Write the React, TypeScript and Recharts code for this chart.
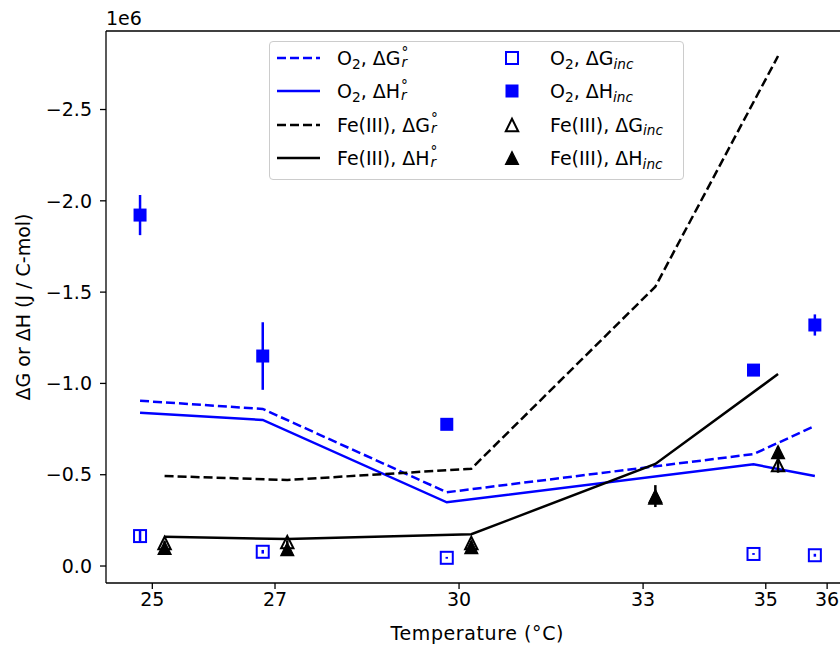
import React from "react";
import { ComposedChart, Line, Scatter, ErrorBar, XAxis, YAxis, Legend, ReferenceLine } from "recharts";

// recharts no resuelve CSS vars — colores fijos
const BLUE = "#0000ff";
const BLACK = "#000000";
const FONT = "'DejaVu Sans', sans-serif";
const FS = 19;

// temperaturas (°C): O2 desplazado a la izquierda, Fe(III) a la derecha
const O2_TEMPS = [24.8, 26.8, 29.8, 34.8, 35.8];
const FE_TEMPS = [25.2, 27.2, 30.2, 33.2, 35.2];

// ΔG°r / ΔH°r calculados (J / C-mol)
const O2_DG_R = [-905000, -860000, -404000, -613000, -767000];
const O2_DH_R = [-840000, -800000, -349000, -557000, -493000];
const FE_DG_R = [-493000, -471000, -533000, -1530000, -2793000];
const FE_DH_R = [-160000, -148000, -174000, -559000, -1051000];

// incubaciones (media ± error)
const O2_DG_INC = [-164000, -78000, -45000, -66000, -59000];
const O2_DG_INC_ERR = [30000, 10000, 5000, 5000, 8000];
const O2_DH_INC = [-1922000, -1150000, -776000, -1073000, -1320000];
const O2_DH_INC_ERR = [110000, 185000, 20000, 20000, 58000];
const FE_DG_INC = [-126000, -131000, -126000, -375000, -553000];
const FE_DG_INC_ERR = [10000, 10000, 10000, 20000, 42000];
const FE_DH_INC = [-99000, -93000, -104000, -383000, -624000];
const FE_DH_INC_ERR = [10000, 10000, 10000, 60000, 30000];

const TEMP_TICKS = [25, 27, 30, 33, 35, 36];
const ENERGY_TICKS = [-2500000, -2000000, -1500000, -1000000, -500000, 0];

const X_DOMAIN: [number, number] = [24.245, 36.35];
const Y_DOMAIN: [number, number] = [-2930000, 93000];

function toPoints(ts: number[], vs: number[], errs?: number[]) {
  return ts.map((t, i) => ({ t, v: vs[i], err: errs ? errs[i] : 0 }));
}

const o2DgR = toPoints(O2_TEMPS, O2_DG_R);
const o2DhR = toPoints(O2_TEMPS, O2_DH_R);
const feDgR = toPoints(FE_TEMPS, FE_DG_R);
const feDhR = toPoints(FE_TEMPS, FE_DH_R);
const o2DgInc = toPoints(O2_TEMPS, O2_DG_INC, O2_DG_INC_ERR);
const o2DhInc = toPoints(O2_TEMPS, O2_DH_INC, O2_DH_INC_ERR);
const feDgInc = toPoints(FE_TEMPS, FE_DG_INC, FE_DG_INC_ERR);
const feDhInc = toPoints(FE_TEMPS, FE_DH_INC, FE_DH_INC_ERR);

// ── marcadores ───────────────────────────────────────────────────────────────

type Pt = { cx?: number; cy?: number };

function FilledSquare({ cx = 0, cy = 0 }: Pt) {
  return <rect x={cx - 6.5} y={cy - 6.5} width={13} height={13} fill={BLUE} />;
}
function OpenSquare({ cx = 0, cy = 0 }: Pt) {
  return <rect x={cx - 6} y={cy - 6} width={12} height={12} fill="none" stroke={BLUE} strokeWidth={2} />;
}
function triPath(cx: number, cy: number, h: number) {
  return `${cx},${cy - h} ${cx - h},${cy + h} ${cx + h},${cy + h}`;
}
function FilledTriangle({ cx = 0, cy = 0 }: Pt) {
  return <polygon points={triPath(cx, cy, 6.5)} fill={BLACK} stroke={BLACK} strokeWidth={1.2} strokeLinejoin="miter" />;
}
function OpenTriangle({ cx = 0, cy = 0 }: Pt) {
  return <polygon points={triPath(cx, cy, 6.2)} fill="none" stroke={BLACK} strokeWidth={2} strokeLinejoin="miter" />;
}

// ── textos con sub/superíndices ──────────────────────────────────────────────

const sub: React.CSSProperties = { fontSize: "0.72em", position: "relative", top: "0.28em", lineHeight: 0 };

function Term({ species, q, kind }: { species: string; q: string; kind: "r" | "inc" }) {
  return (
    <span>
      {species === "O2" ? <>O<span style={sub}>2</span></> : species}
      {", Δ" + q}
      {kind === "r" ? (
        // ° arriba y r abajo, en la misma columna
        <span style={{ position: "relative", display: "inline-block", width: "0.45em", height: "1em" }}>
          <span style={{ position: "absolute", left: 1, top: "-0.62em", fontSize: "0.72em" }}>°</span>
          <span style={{ position: "absolute", left: 1, top: "0.12em", fontSize: "0.72em", fontStyle: "italic" }}>r</span>
        </span>
      ) : (
        <span style={{ ...sub, fontStyle: "italic" }}>inc</span>
      )}
    </span>
  );
}

const LEGEND_LINES = [
  { species: "O2", q: "G", color: BLUE, dashed: true },
  { species: "O2", q: "H", color: BLUE, dashed: false },
  { species: "Fe(III)", q: "G", color: BLACK, dashed: true },
  { species: "Fe(III)", q: "H", color: BLACK, dashed: false },
];
const LEGEND_MARKS = [
  { species: "O2", q: "G", Mark: OpenSquare },
  { species: "O2", q: "H", Mark: FilledSquare },
  { species: "Fe(III)", q: "G", Mark: OpenTriangle },
  { species: "Fe(III)", q: "H", Mark: FilledTriangle },
];

function LegendBox() {
  const rowY = (i: number) => 16 + i * 33.3;
  const textStyle = (i: number, left: number): React.CSSProperties => ({
    position: "absolute", left, top: rowY(i) - 14, height: 28, lineHeight: "28px", whiteSpace: "nowrap",
  });
  return (
    <div style={{
      position: "relative", width: 415, height: 139, boxSizing: "border-box",
      border: "1.3px solid #cccccc", borderRadius: 4, background: "rgba(255,255,255,0.8)",
      fontFamily: FONT, fontSize: FS, color: "#000",
    }}>
      {LEGEND_LINES.map((e, i) => (
        <React.Fragment key={"l" + i}>
          <svg style={{ position: "absolute", left: 0, top: rowY(i) - 14 }} width={60} height={28}>
            <line x1={7} x2={50} y1={14} y2={14} stroke={e.color} strokeWidth={2.5}
              strokeDasharray={e.dashed ? "9 4" : undefined} />
          </svg>
          <div style={textStyle(i, 67)}><Term species={e.species} q={e.q} kind="r" /></div>
        </React.Fragment>
      ))}
      {LEGEND_MARKS.map((e, i) => (
        <React.Fragment key={"m" + i}>
          <svg style={{ position: "absolute", left: 220, top: rowY(i) - 14 }} width={40} height={28}>
            <e.Mark cx={22} cy={14} />
          </svg>
          <div style={textStyle(i, 280)}><Term species={e.species} q={e.q} kind="inc" /></div>
        </React.Fragment>
      ))}
    </div>
  );
}

// ── etiquetas de ejes ────────────────────────────────────────────────────────

type VB = { viewBox?: { x: number; y: number; width: number; height: number } };

function XTitle({ viewBox }: VB) {
  if (!viewBox) return null;
  return (
    <text x={viewBox.x + viewBox.width / 2} y={viewBox.y + 57} textAnchor="middle"
      fontFamily={FONT} fontSize={FS} fill="#000" letterSpacing={0.6}>Temperature (°C)</text>
  );
}
function YTitle({ viewBox }: VB) {
  if (!viewBox) return null;
  const x = 23;
  const y = viewBox.y + viewBox.height / 2;
  return (
    <text x={x} y={y} transform={`rotate(-90 ${x} ${y})`} textAnchor="middle" dominantBaseline="central"
      fontFamily={FONT} fontSize={FS} fill="#000">ΔG or ΔH (J / C-mol)</text>
  );
}
function OffsetText({ viewBox }: VB) {
  if (!viewBox) return null;
  return <text x={viewBox.x} y={viewBox.y - 6} fontFamily={FONT} fontSize={FS} fill="#000">1e6</text>;
}

const fmtEnergy = (v: number) => (v === 0 ? "0.0" : (v < 0 ? "−" : "") + (Math.abs(v) / 1e6).toFixed(1));

const tickStyle = { fill: "#000", fontSize: FS, fontFamily: FONT };
const axisStroke = { stroke: "#000", strokeWidth: 1.3 };

export default function App() {
  return (
    <div style={{ position: "absolute", left: 0, top: 0, width: 840, height: 647, overflow: "hidden", background: "#fff" }}>
      <ComposedChart width={870} height={647} margin={{ top: 31, right: 21.4, bottom: 0, left: 0 }}>
        <XAxis dataKey="t" type="number" domain={X_DOMAIN} ticks={TEMP_TICKS} allowDataOverflow
          height={64} tick={tickStyle} tickSize={6} tickMargin={4} axisLine={axisStroke} tickLine={axisStroke}
          label={XTitle} />
        <YAxis type="number" domain={Y_DOMAIN} reversed allowDataOverflow ticks={ENERGY_TICKS}
          width={106} tick={tickStyle} tickSize={6} tickMargin={8} tickFormatter={fmtEnergy}
          axisLine={axisStroke} tickLine={axisStroke} label={YTitle} />

        {/* marco superior del área de trazado + multiplicador del eje */}
        <ReferenceLine y={Y_DOMAIN[0]} stroke="#000" strokeWidth={1.3} label={OffsetText} />
        <ReferenceLine x={X_DOMAIN[1]} stroke="#000" strokeWidth={1.3} />

        <Line data={o2DgR} dataKey="v" stroke={BLUE} strokeWidth={2.5} strokeDasharray="9 4"
          dot={false} activeDot={false} isAnimationActive={false} />
        <Line data={o2DhR} dataKey="v" stroke={BLUE} strokeWidth={2.5}
          dot={false} activeDot={false} isAnimationActive={false} />
        <Line data={feDgR} dataKey="v" stroke={BLACK} strokeWidth={2.5} strokeDasharray="9 4"
          dot={false} activeDot={false} isAnimationActive={false} />
        <Line data={feDhR} dataKey="v" stroke={BLACK} strokeWidth={2.5}
          dot={false} activeDot={false} isAnimationActive={false} />

        <Scatter data={o2DgInc} dataKey="v" shape={OpenSquare} isAnimationActive={false}>
          <ErrorBar dataKey="err" direction="y" width={0} stroke={BLUE} strokeWidth={2.5} />
        </Scatter>
        <Scatter data={o2DhInc} dataKey="v" shape={FilledSquare} isAnimationActive={false}>
          <ErrorBar dataKey="err" direction="y" width={0} stroke={BLUE} strokeWidth={2.5} />
        </Scatter>
        <Scatter data={feDgInc} dataKey="v" shape={OpenTriangle} isAnimationActive={false}>
          <ErrorBar dataKey="err" direction="y" width={0} stroke={BLACK} strokeWidth={2.5} />
        </Scatter>
        <Scatter data={feDhInc} dataKey="v" shape={FilledTriangle} isAnimationActive={false}>
          <ErrorBar dataKey="err" direction="y" width={0} stroke={BLACK} strokeWidth={2.5} />
        </Scatter>

        <Legend layout="vertical" align="center" verticalAlign="middle" content={LegendBox}
          wrapperStyle={{ left: 269, top: 41, width: 415, height: 139 }} />
      </ComposedChart>
    </div>
  );
}
